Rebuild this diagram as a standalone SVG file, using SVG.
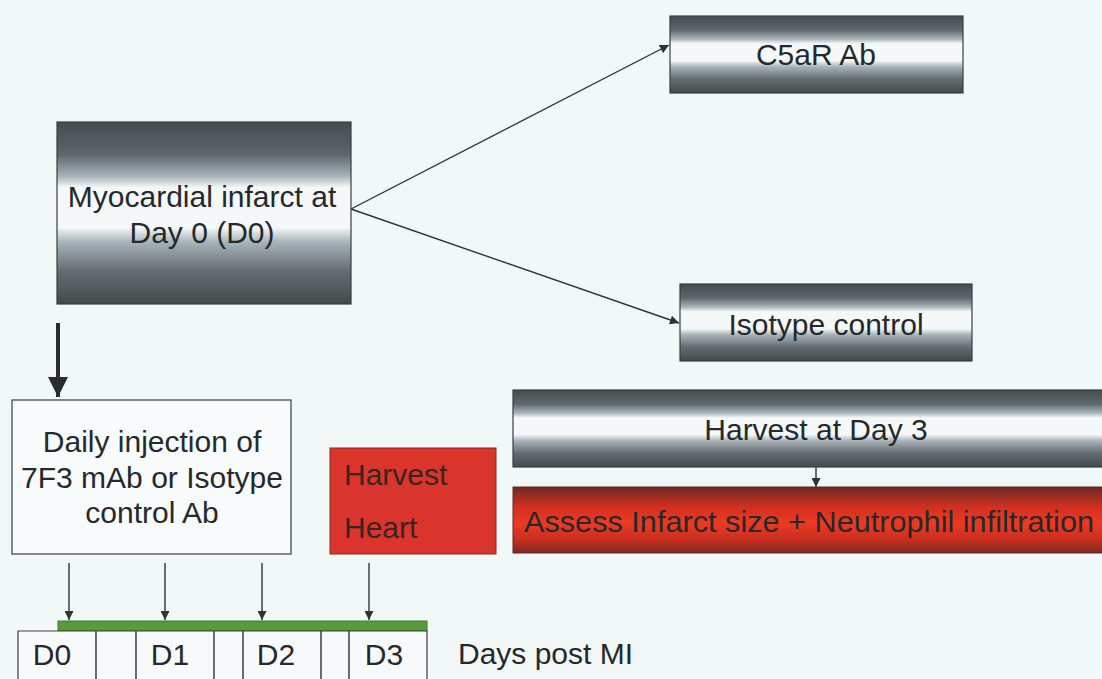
<svg xmlns="http://www.w3.org/2000/svg" width="1102" height="679" viewBox="0 0 1102 679">
<defs>
<linearGradient id="gray" x1="0" y1="0" x2="0" y2="1">
<stop offset="0" stop-color="#464b4f"/>
<stop offset="0.18" stop-color="#5f676b"/>
<stop offset="0.3" stop-color="#a9b6bb"/>
<stop offset="0.36" stop-color="#f4f8f8"/>
<stop offset="0.58" stop-color="#f4f8f8"/>
<stop offset="0.66" stop-color="#a7b3b8"/>
<stop offset="0.82" stop-color="#646c70"/>
<stop offset="1" stop-color="#45494c"/>
</linearGradient>
<linearGradient id="red" x1="0" y1="0" x2="0" y2="1">
<stop offset="0" stop-color="#6a2a24"/>
<stop offset="0.3" stop-color="#d2301f"/>
<stop offset="0.55" stop-color="#ec3a22"/>
<stop offset="0.8" stop-color="#c92e1f"/>
<stop offset="1" stop-color="#7a2a22"/>
</linearGradient>
<marker id="ah" viewBox="0 0 10 10" refX="10" refY="5" markerWidth="10" markerHeight="9" markerUnits="userSpaceOnUse" orient="auto">
<path d="M0,0 L10,5 L0,10 z" fill="#2f3335"/>
</marker>
<marker id="ahb" viewBox="0 0 10 10" refX="10" refY="5" markerWidth="5" markerHeight="5" orient="auto">
<path d="M0,0 L10,5 L0,10 z" fill="#2a2d2f"/>
</marker>
<style>
.t{font-family:"Liberation Sans",Arial,sans-serif;font-size:30px;fill:#25292b}
.c{text-anchor:middle}
.g{fill:url(#gray);stroke:#3a3e40;stroke-width:1.2}
.r{fill:url(#red);stroke:#5a2a25;stroke-width:1}
.ln{stroke:#2f3335;stroke-width:1.4;fill:none}
.cell{fill:#f7fafa;stroke:#3a3e40;stroke-width:1.2}
</style>
</defs>
<rect width="1102" height="679" fill="#f2f8f8"/>

<g id="connectors">
<line class="ln" x1="351" y1="209" x2="669" y2="45" marker-end="url(#ah)"/>
<line class="ln" x1="351" y1="209" x2="679" y2="323" marker-end="url(#ah)"/>
<line x1="58" y1="323" x2="58" y2="397" stroke="#2a2d2f" stroke-width="4" marker-end="url(#ahb)"/>
<line class="ln" x1="816" y1="467" x2="816" y2="487" marker-end="url(#ah)"/>
<line class="ln" x1="69" y1="563" x2="69" y2="620" marker-end="url(#ah)"/>
<line class="ln" x1="165" y1="563" x2="165" y2="620" marker-end="url(#ah)"/>
<line class="ln" x1="262" y1="563" x2="262" y2="620" marker-end="url(#ah)"/>
<line class="ln" x1="369" y1="563" x2="369" y2="620" marker-end="url(#ah)"/>
</g>

<g id="mi">
<rect class="g" x="57" y="122" width="294" height="182"/>
<text class="t c" x="202" y="207">Myocardial infarct at</text>
<text class="t c" x="202" y="243">Day 0 (D0)</text>
</g>

<g id="c5ar">
<rect class="g" x="670" y="16" width="293" height="77"/>
<text class="t c" x="816" y="65">C5aR Ab</text>
</g>

<g id="isotype">
<rect class="g" x="680" y="284" width="292" height="77"/>
<text class="t c" x="826" y="335">Isotype control</text>
</g>

<g id="harvest3">
<rect class="g" x="513" y="390" width="592" height="77"/>
<text class="t c" x="816" y="440">Harvest at Day 3</text>
</g>

<g id="assess">
<rect class="r" x="513" y="487" width="592" height="66"/>
<text class="t" x="524" y="532" textLength="570" lengthAdjust="spacingAndGlyphs">Assess Infarct size + Neutrophil infiltration</text>
</g>

<g id="daily">
<rect x="12" y="400" width="279" height="154" fill="#f8fbfb" stroke="#3a3e40" stroke-width="1.2"/>
<text class="t c" x="152" y="452">Daily injection of</text>
<text class="t c" x="152" y="488">7F3 mAb or Isotype</text>
<text class="t c" x="152" y="523">control Ab</text>
</g>

<g id="harvestheart">
<rect x="330" y="448" width="166" height="106" fill="#d9352c" stroke="#8a2a22" stroke-width="1"/>
<text class="t" x="344" y="485" style="fill:#3a2422">Harvest</text>
<text class="t" x="344" y="538" style="fill:#3a2422">Heart</text>
</g>

<g id="timeline">
<rect x="58" y="621" width="369" height="10" fill="#5a9a3a" stroke="#3f7a2a" stroke-width="1"/>
<path class="cell" d="M18,679 V631 H427 V679"/>
<line class="ln" x1="96" y1="631" x2="96" y2="679"/>
<line class="ln" x1="136" y1="631" x2="136" y2="679"/>
<line class="ln" x1="214" y1="631" x2="214" y2="679"/>
<line class="ln" x1="243" y1="631" x2="243" y2="679"/>
<line class="ln" x1="321" y1="631" x2="321" y2="679"/>
<line class="ln" x1="349" y1="631" x2="349" y2="679"/>
<text class="t c" x="52" y="665">D0</text>
<text class="t c" x="170" y="665">D1</text>
<text class="t c" x="276" y="665">D2</text>
<text class="t c" x="384" y="665">D3</text>
<text class="t" x="458" y="664">Days post MI</text>
</g>
</svg>
